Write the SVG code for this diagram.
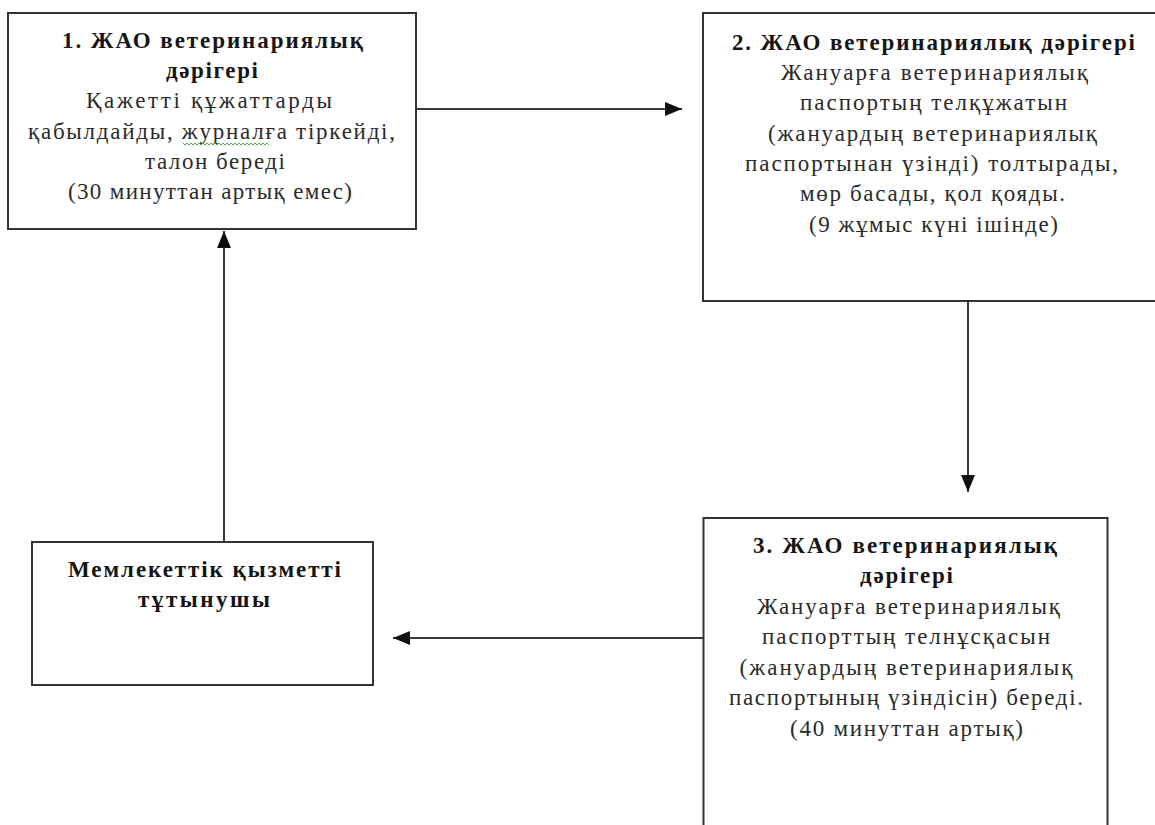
<svg xmlns="http://www.w3.org/2000/svg" width="1155" height="825" viewBox="0 0 1155 825">
<defs>
<style>
.box{fill:#fff;stroke:#333;stroke-width:2}
.t{font-family:"Liberation Serif","Times New Roman",serif;font-size:23px;fill:#2a2a2a;text-anchor:middle}
.b{font-weight:bold;fill:#151515}
.c{fill:none;stroke:#3a3a3a;stroke-width:2}
</style>
<marker id="ah" markerUnits="userSpaceOnUse" markerWidth="18" markerHeight="16" viewBox="0 0 18 16" refX="17" refY="8" orient="auto">
<path d="M0,1 L17,8 L0,15 Z" fill="#111"/>
</marker>
</defs>
<rect width="1155" height="825" fill="#fff"/>
<g id="connectors">
<line class="c" x1="416" y1="109" x2="682" y2="109" marker-end="url(#ah)"/>
<line class="c" x1="968" y1="301" x2="968" y2="492" marker-end="url(#ah)"/>
<line class="c" x1="703" y1="638" x2="393" y2="638" marker-end="url(#ah)"/>
<line class="c" x1="224" y1="542" x2="224" y2="231" marker-end="url(#ah)"/>
</g>
<g id="node1">
<rect class="box" x="8" y="13" width="408" height="216"/>
<text class="t b" x="212.5" y="48" textLength="301" lengthAdjust="spacing">1. ЖАО ветеринариялық</text>
<text class="t b" x="212" y="78" textLength="92" lengthAdjust="spacing">дәрігері</text>
<text class="t" x="209" y="108" textLength="246" lengthAdjust="spacing">Қажетті құжаттарды</text>
<text class="t" x="211.5" y="139" textLength="367" lengthAdjust="spacing">қабылдайды, журналға тіркейді,</text>
<text class="t" x="215" y="169" textLength="140" lengthAdjust="spacing">талон береді</text>
<text class="t" x="210" y="199" textLength="284" lengthAdjust="spacing">(30 минуттан артық емес)</text>
<polyline fill="none" stroke="#4caf50" stroke-width="1" points="183,143 185,145 187,143 189,145 191,143 193,145 195,143 197,145 199,143 201,145 203,143 205,145 207,143 209,145 211,143 213,145 215,143 217,145 219,143 221,145 223,143 225,145 227,143 229,145 231,143 233,145 235,143 237,145 239,143 241,145 243,143 245,145 247,143 249,145 251,143 253,145 255,143 257,145 259,143 261,145 263,143 265,145 267,143 269,145"/>
</g>
<g id="node2">
<rect class="box" x="703" y="13" width="460" height="288"/>
<text class="t b" x="933.5" y="50" textLength="403" lengthAdjust="spacing">2. ЖАО ветеринариялық дәрігері</text>
<text class="t" x="934.5" y="80" textLength="307" lengthAdjust="spacing">Жануарға ветеринариялық</text>
<text class="t" x="933.5" y="110" textLength="267" lengthAdjust="spacing">паспортың телқұжатын</text>
<text class="t" x="932.5" y="141" textLength="329" lengthAdjust="spacing">(жануардың ветеринариялық</text>
<text class="t" x="931.5" y="171" textLength="373" lengthAdjust="spacing">паспортынан үзінді) толтырады,</text>
<text class="t" x="932.5" y="201" textLength="265" lengthAdjust="spacing">мөр басады, қол қояды.</text>
<text class="t" x="933.5" y="232" textLength="249" lengthAdjust="spacing">(9 жұмыс күні ішінде)</text>
</g>
<g id="node3">
<rect class="box" x="703.5" y="518" width="404" height="320"/>
<text class="t b" x="905" y="553" textLength="304" lengthAdjust="spacing">3. ЖАО ветеринариялық</text>
<text class="t b" x="906.5" y="583" textLength="93" lengthAdjust="spacing">дәрігері</text>
<text class="t" x="908.5" y="614" textLength="303" lengthAdjust="spacing">Жануарға ветеринариялық</text>
<text class="t" x="906" y="644" textLength="288" lengthAdjust="spacing">паспорттың телнұсқасын</text>
<text class="t" x="906" y="675" textLength="333" lengthAdjust="spacing">(жануардың ветеринариялық</text>
<text class="t" x="906" y="705" textLength="354" lengthAdjust="spacing">паспортының үзіндісін) береді.</text>
<text class="t" x="906.5" y="736" textLength="233" lengthAdjust="spacing">(40 минуттан артық)</text>
</g>
<g id="node4">
<rect class="box" x="32" y="542" width="341" height="143"/>
<text class="t b" x="204.5" y="577" textLength="273" lengthAdjust="spacing">Мемлекеттік қызметті</text>
<text class="t b" x="204" y="607" textLength="132" lengthAdjust="spacing">тұтынушы</text>
</g>
</svg>
